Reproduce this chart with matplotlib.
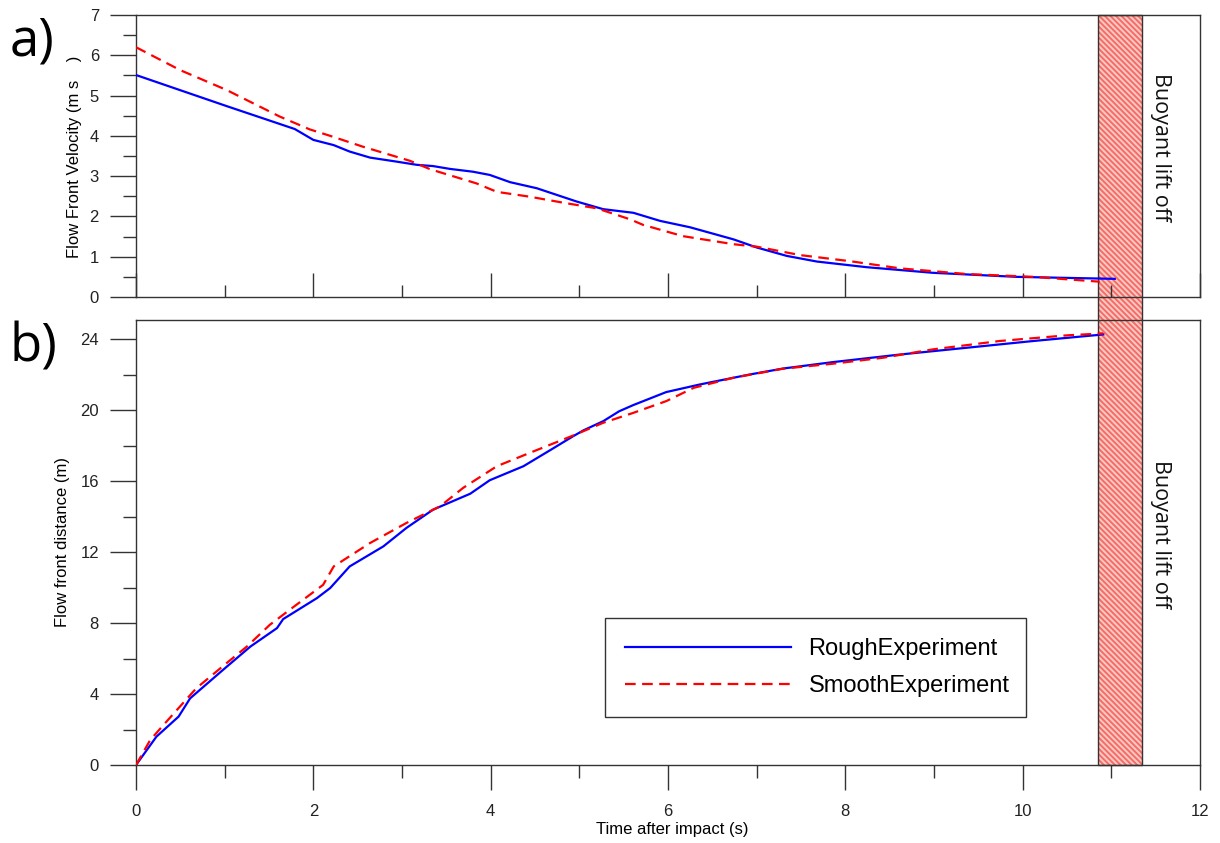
import matplotlib
matplotlib.use("Agg")
import matplotlib.pyplot as plt
from matplotlib.patches import Rectangle
from matplotlib.transforms import blended_transform_factory
from matplotlib.ticker import MultipleLocator

# velocity (panel a)
t_vel_rough = [0, 1.02, 1.79, 2.0, 2.23, 2.41, 2.64, 2.94, 3.17, 3.35, 3.54, 3.80, 3.99, 4.22,
               4.52, 4.97, 5.27, 5.61, 5.91, 6.25, 6.74, 7.0, 7.34, 7.68, 8.24, 8.99, 9.93, 11.04]
v_rough = [5.51, 4.74, 4.17, 3.90, 3.77, 3.61, 3.46, 3.36, 3.28, 3.25, 3.18, 3.11, 3.03, 2.85,
           2.70, 2.37, 2.18, 2.09, 1.89, 1.73, 1.43, 1.23, 1.02, 0.88, 0.74, 0.60, 0.50, 0.45]
t_vel_smooth = [0, 0.5, 1.02, 1.62, 1.96, 2.19, 2.56, 3.09, 3.32, 3.84, 4.07, 4.44, 4.82, 5.20,
                5.57, 5.72, 6.17, 6.74, 7.0, 7.49, 8.05, 8.62, 9.37, 10.12, 10.87]
v_smooth = [6.20, 5.63, 5.14, 4.48, 4.16, 4.00, 3.73, 3.38, 3.17, 2.82, 2.61, 2.49, 2.34, 2.20,
            1.93, 1.79, 1.51, 1.31, 1.25, 1.04, 0.89, 0.71, 0.57, 0.50, 0.38]

# distance (panel b)
t_dist_rough = [0, 0.23, 0.48, 0.61, 0.98, 1.29, 1.59, 1.66, 2.04, 2.19, 2.41, 2.79, 3.05, 3.35,
                3.77, 3.99, 4.37, 4.67, 4.93, 5.05, 5.27, 5.45, 5.61, 5.98, 6.36, 6.92, 7.30, 7.86,
                8.62, 9.37, 10.12, 10.91]
d_rough = [0, 1.60, 2.73, 3.76, 5.36, 6.68, 7.72, 8.23, 9.41, 9.98, 11.20, 12.33, 13.37, 14.40,
           15.30, 16.06, 16.85, 17.75, 18.54, 18.88, 19.39, 19.95, 20.30, 21.03, 21.46, 22.02,
           22.36, 22.72, 23.15, 23.53, 23.91, 24.28]
t_dist_smooth = [0, 0.16, 0.31, 0.68, 1.02, 1.25, 1.51, 1.81, 2.11, 2.23, 2.64, 3.05, 3.43, 3.69,
                 4.07, 4.44, 4.93, 5.27, 5.61, 5.98, 6.29, 6.74, 7.30, 7.86, 8.43, 8.99, 9.74,
                 10.50, 10.91]
d_smooth = [0, 1.41, 2.26, 4.33, 5.74, 6.68, 7.91, 9.04, 10.16, 11.20, 12.52, 13.65, 14.59, 15.63,
            16.85, 17.60, 18.58, 19.30, 19.86, 20.52, 21.27, 21.84, 22.35, 22.63, 22.97, 23.44,
            23.91, 24.23, 24.34]

liftoff = (10.85, 11.35)
series_labels = ["RoughExperiment", "SmoothExperiment"]

dashed = (0, (4.8, 2.9))
frame = "#333333"
plt.rcParams['font.family'] = ['Liberation Sans', 'DejaVu Sans']
plt.rcParams['hatch.color'] = "#f26d66"
plt.rcParams['hatch.linewidth'] = 1.4

fig = plt.figure(figsize=(12.2, 8.43), dpi=100)
ax1 = fig.add_axes([0.1115, 0.6477, 0.872, 0.3345])
ax2 = fig.add_axes([0.1115, 0.0925, 0.872, 0.528])
ax2.set_facecolor("none")

ax1.plot(t_vel_rough, v_rough, color="#0000ff", lw=1.6, zorder=3)
ax1.plot(t_vel_smooth, v_smooth, color="#ff0000", lw=1.6, ls=dashed, zorder=3)
ax2.plot(t_dist_rough, d_rough, color="#0000ff", lw=1.6, label=series_labels[0], zorder=3)
ax2.plot(t_dist_smooth, d_smooth, color="#ff0000", lw=1.6, ls=dashed, label=series_labels[1], zorder=3)

for ax in (ax1, ax2):
    ax.set_xlim(0, 12)
    ax.xaxis.set_major_locator(MultipleLocator(2))
    ax.xaxis.set_minor_locator(MultipleLocator(1))
    for s in ax.spines.values():
        s.set_color(frame)
        s.set_linewidth(1.0)
    ax.tick_params(which="both", colors=frame, labelcolor="#222222", labelsize=12, width=1.0)
    ax.tick_params(axis="y", which="major", direction="out", length=18.7, pad=8)
    ax.tick_params(axis="y", which="minor", direction="out", length=9.4)

ax1.set_ylim(0, 7)
ax1.yaxis.set_major_locator(MultipleLocator(1))
ax1.yaxis.set_minor_locator(MultipleLocator(0.5))
ax1.tick_params(axis="x", which="major", direction="in", length=17, labelbottom=False)
ax1.tick_params(axis="x", which="minor", direction="in", length=8.5)
ax1.set_ylabel("Flow Front Velocity (m s    )", fontsize=12)
ax1.yaxis.set_label_coords(-0.051, 0.496)

ax2.set_ylim(0, 25.1)
ax2.yaxis.set_major_locator(MultipleLocator(4))
ax2.yaxis.set_minor_locator(MultipleLocator(2))
ax2.tick_params(axis="x", which="major", direction="out", length=18, pad=10)
ax2.tick_params(axis="x", which="minor", direction="out", length=9)
ax2.set_ylabel("Flow front distance (m)", fontsize=12)
ax2.yaxis.set_label_coords(-0.062, 0.5)
ax2.set_xlabel("Time after impact (s)", fontsize=12)
ax2.xaxis.set_label_coords(0.504, -0.128)

# buoyant lift-off band spanning both panels
p1 = ax1.get_position()
p2 = ax2.get_position()
tr = blended_transform_factory(ax1.transData, fig.transFigure)
y0, y1 = p2.y0, p1.y1
ax1.add_artist(Rectangle((liftoff[0], y0), liftoff[1] - liftoff[0], y1 - y0, transform=tr,
                         facecolor="#ffc8c4", edgecolor="#f26d66", hatch="\\\\\\\\\\\\", lw=0,
                         clip_on=False, zorder=1))
ax1.add_artist(Rectangle((liftoff[0], y0), liftoff[1] - liftoff[0], y1 - y0, transform=tr,
                         fill=False, edgecolor=frame, lw=1.0, clip_on=False, zorder=1.5))

for ax, yc in ((ax1, 3.72), (ax2, 13.0)):
    ax.text(11.56, yc, "Buoyant lift off", rotation=-90, ha="center", va="center",
            fontsize=15.5, family=["Open Sans", "DejaVu Sans"], color="#111111")

fig.text(0.008, 0.950, "a)", fontsize=38, family=["Open Sans", "DejaVu Sans"], va="center")
fig.text(0.008, 0.587, "b)", fontsize=38, family=["Open Sans", "DejaVu Sans"], va="center")

leg = ax2.legend(loc="lower left", bbox_to_anchor=(0.441, 0.108, 0.396, 0.225), mode="expand",
                 borderaxespad=0, fontsize=17, handlelength=7.0, handletextpad=0.76,
                 borderpad=0.85, labelspacing=0.62, fancybox=False, framealpha=1, edgecolor=frame)
leg.get_frame().set_linewidth(1.0)

fig.savefig("out.png", dpi=100)
